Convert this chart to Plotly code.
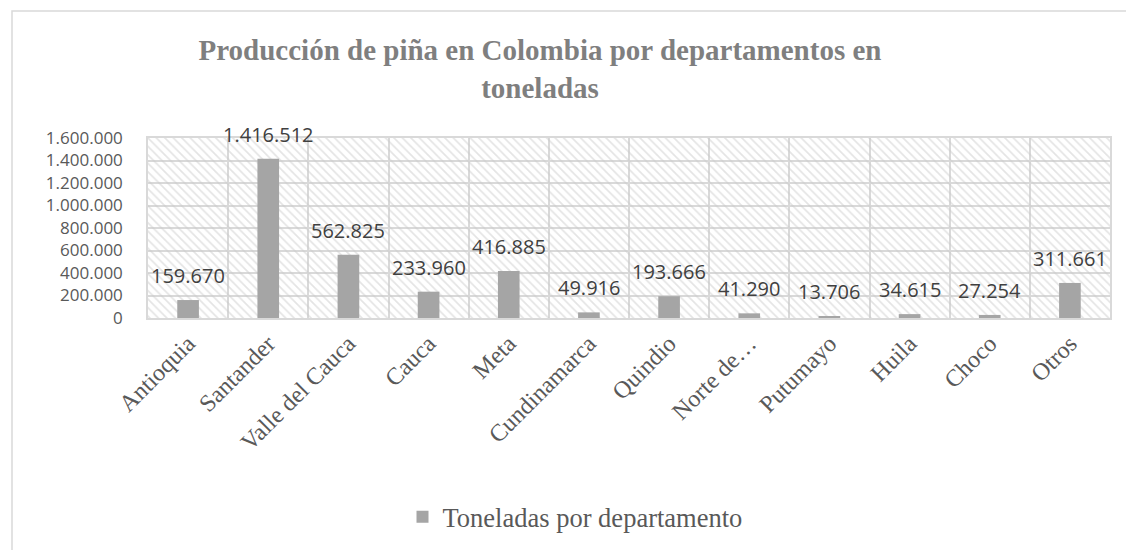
import plotly.graph_objects as go

departamentos = ["Antioquia", "Santander", "Valle del Cauca", "Cauca", "Meta",
                 "Cundinamarca", "Quindio", "Norte de…", "Putumayo", "Huila",
                 "Choco", "Otros"]
toneladas = [159670, 1416512, 562825, 233960, 416885, 49916, 193666, 41290,
             13706, 34615, 27254, 311661]
y_max = 1600000
y_step = 200000

W, H = 1126, 550
L, R, T, B = 148, 16, 138, 230.5
pw, ph = W - L - R, H - T - B

fig = go.Figure()

# hatched plot-area background (one full-height, full-width column per category)
fig.add_trace(go.Bar(
    x=departamentos, y=[y_max] * len(departamentos), width=1,
    marker=dict(color="rgba(0,0,0,0)", line=dict(width=0),
                pattern=dict(shape="\\", size=6, solidity=0.28,
                             fgcolor="#c9c9c9", bgcolor="rgba(0,0,0,0)")),
    showlegend=False, hoverinfo="skip"))

fig.add_trace(go.Bar(
    x=departamentos, y=toneladas, width=0.27, name="Toneladas por departamento",
    marker=dict(color="#a5a5a5", line=dict(width=0))))

for d, v in zip(departamentos, toneladas):
    fig.add_annotation(x=d, y=v, text=f"{v:,}".replace(",", "."), showarrow=False,
                       yanchor="bottom", yshift=9,
                       font=dict(family="Open Sans", size=20, color="#404040"))

fig.update_layout(
    width=W, height=H,
    margin=dict(l=L, r=R, t=T, b=B),
    paper_bgcolor="white", plot_bgcolor="white",
    barmode="overlay",
    separators=",.",
    title=dict(text="Producción de piña en Colombia por departamentos en<br>toneladas",
               x=540 / W, xanchor="center", xref="container",
               y=1 - 60 / H, yanchor="top", yref="container",
               font=dict(family="Liberation Serif", size=29, color="#7f7f7f",
                         weight="bold")),
    legend=dict(orientation="h", x=(575 - L) / pw, xanchor="center",
                y=(ph - (518 - T)) / ph, yanchor="middle",
                font=dict(family="Liberation Serif", size=26.5, color="#595959"),
                itemwidth=30),
    xaxis=dict(tickson="boundaries", showgrid=True, gridcolor="#d9d9d9", gridwidth=1.5,
               showline=True, linecolor="#d9d9d9", linewidth=2, mirror=True,
               ticks="", tickangle=-45,
               tickfont=dict(family="Liberation Serif", size=24, color="#595959")),
    yaxis=dict(range=[0, y_max], dtick=y_step, tickformat=",d",
               showgrid=True, gridcolor="#d9d9d9", gridwidth=1.5,
               showline=True, linecolor="#d9d9d9", linewidth=1.5, mirror=True,
               zeroline=False, ticks="", ticklabelstandoff=20,
               tickfont=dict(family="Open Sans", size=17, color="#595959")),
    shapes=[dict(type="rect", xref="paper", yref="paper",
                 x0=(12 - L) / pw, x1=(W + 20 - L) / pw,
                 y0=(ph - (H + 20 - T)) / ph, y1=(ph - (10 - T)) / ph,
                 line=dict(color="#d9d9d9", width=1.5), fillcolor="rgba(0,0,0,0)",
                 layer="below")],
)

fig.write_html("out.html")
